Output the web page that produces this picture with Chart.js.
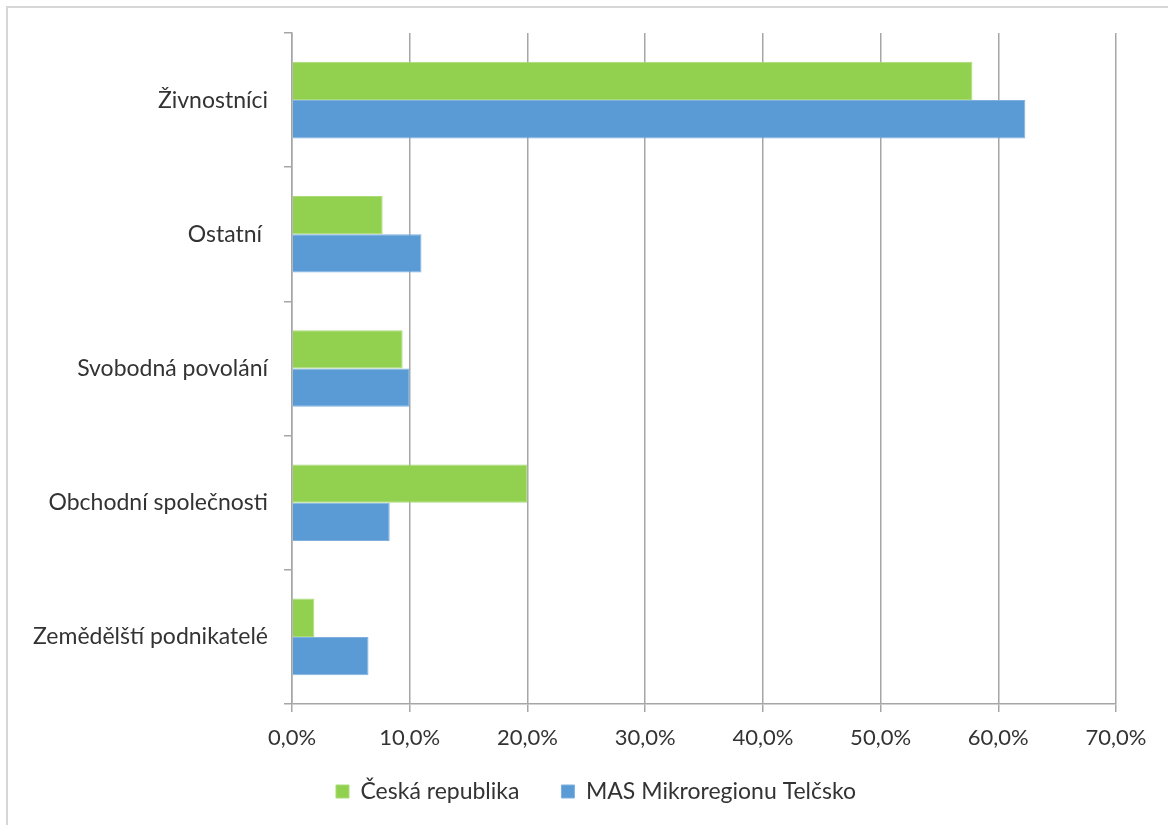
<!DOCTYPE html>
<html>
<head>
<meta charset="utf-8">
<script src="https://cdn.jsdelivr.net/npm/chart.js@4"></script>
<style>
  html, body { margin: 0; padding: 0; background: #ffffff; }
  #wrap { position: relative; width: 1168px; height: 825px; }
  #frame { position: absolute; left: 6px; top: 6px; right: 0; bottom: 0;
           border-left: 2px solid #d6d6d6; border-top: 2px solid #d6d6d6; }
  canvas { position: absolute; left: 0; top: 0; }
</style>
</head>
<body>
<div id="wrap">
  <div id="frame"></div>
  <canvas id="chart" width="1168" height="825"></canvas>
</div>
<script>
const categories = ["Živnostníci", "Ostatní ", "Svobodná povolání", "Obchodní společnosti", "Zemědělští podnikatelé"];
const seriesNames = ["Česká republika", "MAS Mikroregionu Telčsko"];
const ceskaRepublika = [57.8, 7.7, 9.4, 20.0, 1.9];
const masTelcsko = [62.3, 11.0, 10.0, 8.3, 6.5];
const xTicks = [0, 10, 20, 30, 40, 50, 60, 70];

const fontFamily = "Lato, 'Open Sans', sans-serif";
const textColor = "#333333";
const gridColor = "#a6a6a6";

// move the legend a bit (the original centres it on the whole frame)
const legendShift = {
  id: "legendShift",
  afterLayout: (chart) => {
    const legend = chart.legend;
    if (legend) {
      legend.left += 34;
      legend.right += 34;
      legend.top -= 16;
      legend.bottom -= 16;
    }
  }
};

new Chart(document.getElementById("chart"), {
  type: "bar",
  data: {
    labels: categories,
    datasets: [
      {
        label: seriesNames[0],
        data: ceskaRepublika,
        backgroundColor: "#92d050",
        borderColor: "#a9dc78",
        borderWidth: 1
      },
      {
        label: seriesNames[1],
        data: masTelcsko,
        backgroundColor: "#5b9bd5",
        borderColor: "#7fb0df",
        borderWidth: 1
      }
    ]
  },
  options: {
    indexAxis: "y",
    responsive: false,
    animation: false,
    devicePixelRatio: 1,
    datasets: {
      bar: { categoryPercentage: 0.571, barPercentage: 1 }
    },
    layout: { padding: { top: 33, left: 8, right: 52, bottom: 0 } },
    plugins: {
      tooltip: { enabled: false },
      legend: {
        position: "bottom",
        maxHeight: 71,
        labels: {
          color: textColor,
          font: { family: fontFamily, size: 23 },
          boxWidth: 13,
          boxHeight: 13,
          padding: 42
        }
      }
    },
    scales: {
      x: {
        min: 0,
        max: 70,
        afterBuildTicks: (axis) => {
          axis.ticks = xTicks.map((value) => ({ value }));
        },
        afterFit: (axis) => {
          axis.height = 50;
        },
        grid: { color: gridColor, lineWidth: 1.5, tickLength: 8 },
        border: { color: gridColor, width: 1.5 },
        ticks: {
          color: textColor,
          padding: 13,
          font: { family: fontFamily, size: 22 },
          callback: (value) => value.toFixed(1).replace(".", ",") + "%"
        }
      },
      y: {
        afterFit: (axis) => {
          axis.width = 284;
        },
        grid: { drawOnChartArea: false, color: gridColor, lineWidth: 1.5, tickLength: 8 },
        border: { color: gridColor, width: 1.5 },
        ticks: {
          color: textColor,
          padding: 16,
          font: { family: fontFamily, size: 23 }
        }
      }
    }
  },
  plugins: [legendShift]
});
</script>
</body>
</html>
